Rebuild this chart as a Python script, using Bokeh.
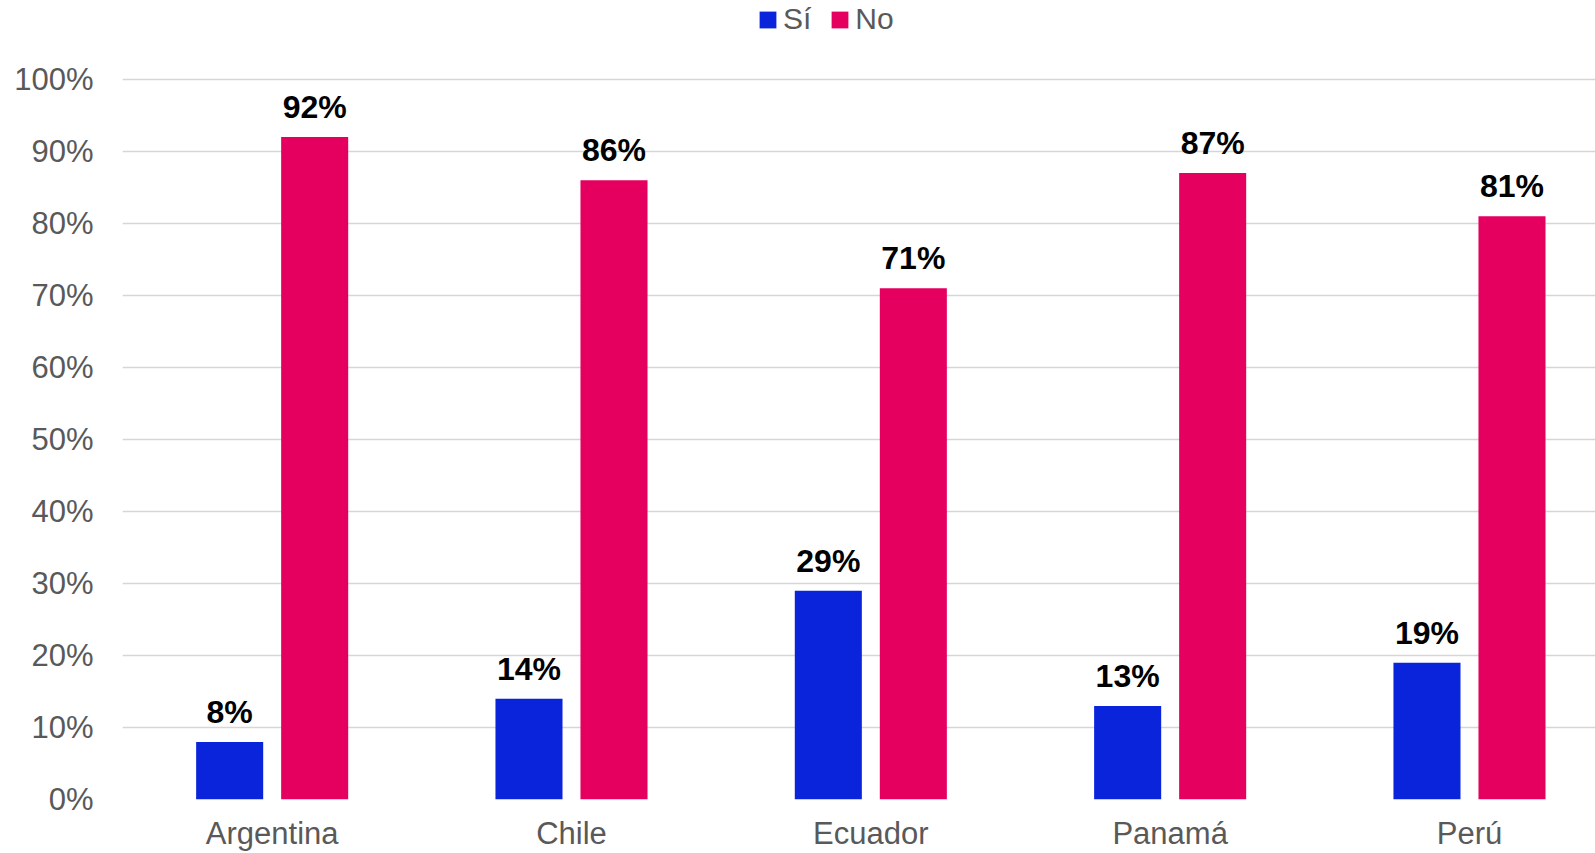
from bokeh.plotting import figure
from bokeh.models import ColumnDataSource, Range1d, FixedTicker, Legend, LegendItem
from bokeh.embed import file_html
from bokeh.resources import INLINE
from bokeh.core.properties import value

categories = ["Argentina", "Chile", "Ecuador", "Panamá", "Perú"]
si_values = [8, 14, 29, 13, 19]
no_values = [92, 86, 71, 87, 81]
y_ticks = [0, 10, 20, 30, 40, 50, 60, 70, 80, 90, 100]
series_names = ["Sí", "No"]

BLUE = "#0A24DC"
PINK = "#E50060"
GREY = "#595959"
FONT = "Liberation Sans"

idx = list(range(len(categories)))
OFF = 0.142
W = 0.224

src_si = ColumnDataSource(dict(x=[i - OFF for i in idx], top=si_values,
                               lab=[f"{v}%" for v in si_values]))
src_no = ColumnDataSource(dict(x=[i + OFF for i in idx], top=no_values,
                               lab=[f"{v}%" for v in no_values]))

p = figure(width=1595, height=853, output_backend="svg", toolbar_location=None,
           x_range=Range1d(-0.5, 4.421), y_range=Range1d(0, 110.97),
           min_border_left=122, min_border_right=0, min_border_top=0,
           min_border_bottom=50)
p.outline_line_color = None
p.background_fill_color = "white"

r_si = p.vbar(x="x", top="top", width=W, source=src_si, fill_color=BLUE, line_color=None)
r_no = p.vbar(x="x", top="top", width=W, source=src_no, fill_color=PINK, line_color=None)

for src in (src_si, src_no):
    p.text(x="x", y="top", text="lab", source=src, text_align="center",
           text_baseline="alphabetic", y_offset=-30,
           text_font=value(FONT), text_font_style="bold",
           text_font_size="32px", text_color="black")

p.xgrid.grid_line_color = None
p.ygrid.grid_line_color = "#D6D6D6"
p.ygrid.grid_line_width = 1.5
p.yaxis.ticker = FixedTicker(ticks=y_ticks)
p.yaxis.major_label_overrides = {t: f"{t}%" for t in y_ticks}
p.xaxis.ticker = FixedTicker(ticks=idx)
p.xaxis.major_label_overrides = {i: c for i, c in enumerate(categories)}

for ax in (p.xaxis[0], p.yaxis[0]):
    ax.axis_line_color = None
    ax.major_tick_line_color = None
    ax.minor_tick_line_color = None
    ax.major_tick_out = 0
    ax.major_tick_in = 0
    ax.major_label_text_font = FONT
    ax.major_label_text_font_size = "31px"
    ax.major_label_text_color = GREY
p.yaxis.major_label_standoff = 29
p.xaxis.major_label_standoff = 16

legend = Legend(items=[LegendItem(label=series_names[0], renderers=[r_si]),
                       LegendItem(label=series_names[1], renderers=[r_no])],
                orientation="horizontal", location=(635, 763),
                glyph_width=21, glyph_height=21, label_standoff=5, spacing=18,
                padding=0, margin=0, border_line_color=None,
                background_fill_alpha=0,
                label_text_font=FONT, label_text_font_size="30px",
                label_text_color=GREY, label_height=30)
p.add_layout(legend, "center")

open("out.html", "w").write(file_html(p, INLINE))
